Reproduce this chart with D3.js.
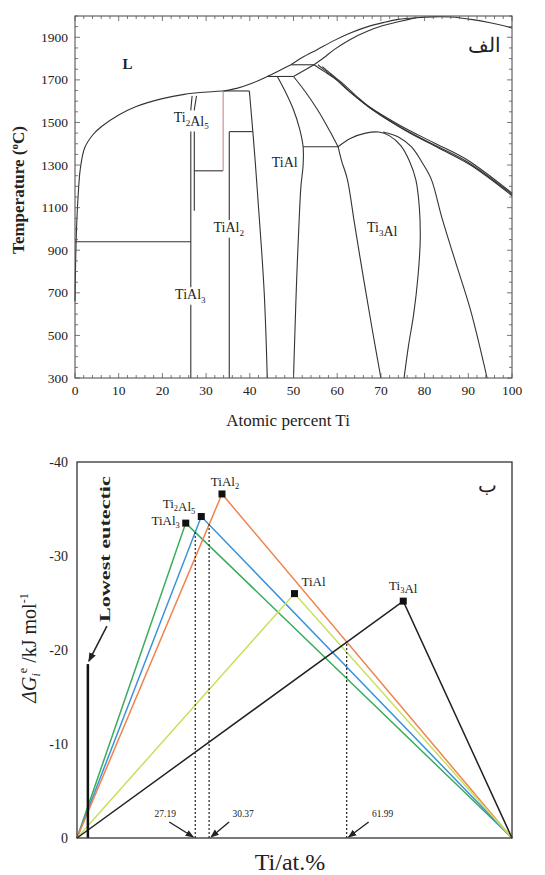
<!DOCTYPE html>
<html>
<head>
<meta charset="utf-8">
<script src="https://cdn.jsdelivr.net/npm/d3@7"></script>
<style>
  body { margin: 0; background: #fff; }
  text { font-family: "Liberation Serif", "Times New Roman", "DejaVu Serif", serif; fill: #222; }
</style>
</head>
<body>
<script>
// ---------- top panel: Ti-Al phase diagram (at.% Ti, deg C) ----------
const liquidusAl = [[0,660],[0.15,850],[0.35,1000],[0.7,1150],[1.2,1280],[2.2,1380],[4,1440],[6,1480],[10,1535],[14,1575],[20,1612],[25,1632],[29.5,1642],[33.9,1648]];
const liquidusMid = [[33.9,1648],[37,1660],[40.5,1684],[44,1716],[46.7,1743],[49.4,1771]];
const liquidusUpper = [[49.4,1771],[52,1805],[55.4,1842],[59,1882],[63,1920],[67,1950],[70.7,1970],[74,1984],[78,1992]];
const solidusBeta = [[54.7,1771],[57,1805],[59.3,1842],[63,1890],[66.9,1928],[70.5,1955],[74.5,1975],[78,1992]];
const liquidusTi = [[78,1992],[82,1996],[86,1995],[91,1983],[95,1968],[100,1944]];
const peritecticTiAl2 = [[33.9,1648],[39.9,1648]];
const peritecticTiAl = [[44,1716],[50,1716]];
const peritecticAlpha = [[49.4,1771],[54.7,1771]];
const alphaSolidus = [[50,1716],[54.7,1771]];
const eutecticAl = [[0,940],[26.5,940]];
const tial3Line = [[26.5,300],[26.5,1560],[26.8,1625]];
const ti2al5Line = [[27.3,1085],[27.3,1560],[27.8,1625]];
const ti2al5Bottom = [[27.3,1273],[33.9,1273]];
const ti2al5Right = [[33.9,1273],[33.9,1648]];
const tial2Line = [[35.3,300],[35.3,1457]];
const tial2Top = [[35.3,1457],[40.7,1457]];
const tialCorner = [[39.9,1648],[40.7,1457]];
const tialLeft = [[40.7,1457],[41.3,1300],[42,1100],[42.7,900],[43.3,700],[43.7,500],[44,300]];
const tialRight = [[46.3,1716],[48,1650],[50,1560],[51.4,1470],[52.2,1386],[52.2,1300],[51.7,1200],[51.2,1000],[50.7,750],[50.3,500],[50,300]];
const alphaLeft = [[50,1716],[52.5,1650],[55.5,1560],[58.3,1460],[60.2,1386]];
const eutectoid = [[52.2,1386],[60.2,1386]];
const ti3alLeft = [[60.2,1386],[61,1320],[62.3,1235],[64,1020],[66,770],[68,530],[70,300]];
const ti3alDome = [[60.2,1386],[63,1425],[66.5,1450],[69.5,1455],[72,1437],[74.5,1392],[76.5,1320],[78,1230],[78.8,1100],[79,950],[78.5,780],[77.5,600],[76.3,450],[75.3,300]];
const alphaTransus = [[70.5,1455],[74,1432],[77,1385],[79.5,1310],[81.5,1235],[84,1050],[87,850],[90.5,620],[94.3,300]];
const betaTransus1 = [[54.7,1771],[57,1740],[59.3,1708],[63,1642],[66.9,1580],[74.5,1485],[82.1,1405],[89.7,1325],[100,1168]];
const betaTransus2 = [[55.6,1771],[57.8,1735],[60,1700],[63.6,1632],[67.5,1568],[75,1472],[82.5,1392],[90,1312],[100,1162]];
const betaTransus3 = [[56.6,1762],[58.8,1724],[61,1688],[64.6,1620],[68.4,1556],[75.8,1460],[83.2,1380],[90.5,1300],[100,1156]];

const smoothCurves = [liquidusAl, liquidusMid, liquidusUpper, solidusBeta, liquidusTi, tialLeft, tialRight,
  alphaLeft, ti3alLeft, ti3alDome, alphaTransus, betaTransus1, betaTransus2, betaTransus3];
const straightLines = [peritecticTiAl2, peritecticTiAl, peritecticAlpha, alphaSolidus, eutecticAl, tial3Line,
  ti2al5Line, ti2al5Bottom, tial2Line, tial2Top, tialCorner, eutectoid];

const phaseLabels = ['L', 'Ti2Al5', 'TiAl', 'TiAl2', 'Ti3Al', 'TiAl3'];
const phaseLabelX = [12, 26.6, 48, 35.2, 70.3, 26.4];
const phaseLabelT = [1750, 1500, 1290, 985, 985, 670];

const topXTicks = d3.range(0, 101, 10);
const topYTicks = d3.range(300, 2000, 200);

// ---------- bottom panel: effective Gibbs energy ----------
const compounds = ['TiAl3', 'Ti2Al5', 'TiAl2', 'TiAl', 'Ti3Al'];
const compoundTi = [25, 28.57, 33.33, 50, 75];
const compoundG = [-33.5, -34.2, -36.6, -26.0, -25.2];
const eutecticTi = 2.5;
const eutecticG = -18.5;
const crossTi = [27.19, 30.37, 61.99];
const crossG = [-32.6, -33.4, -20.9];
const crossLabels = ['27.19', '30.37', '61.99'];
const bottomYTicks = [0, -10, -20, -30, -40];

const colors = { TiAl3: '#3aac5c', Ti2Al5: '#3b93d8', TiAl2: '#f0834e', TiAl: '#c8e05a', Ti3Al: '#222' };

const svg = d3.select('body').append('svg').attr('width', 545).attr('height', 875);

// helper: chemical formula with subscripts
function formula(sel, str, size) {
  const parts = str.match(/[A-Za-z]+|\d+/g);
  parts.forEach((p) => {
    if (/\d/.test(p)) {
      sel.append('tspan').attr('font-size', size * 0.65).attr('dy', size * 0.25).text(p);
      sel.append('tspan').attr('font-size', size).attr('dy', -size * 0.25).text('');
    } else {
      sel.append('tspan').text(p);
    }
  });
}

// ===== top panel =====
const x1 = d3.scaleLinear().domain([0, 100]).range([75, 512]);
const y1 = d3.scaleLinear().domain([300, 2000]).range([378, 16]);
const topG = svg.append('g');

const smooth = d3.line().x((d) => x1(d[0])).y((d) => y1(d[1])).curve(d3.curveCatmullRom.alpha(0.5));
const straight = d3.line().x((d) => x1(d[0])).y((d) => y1(d[1]));

topG.selectAll('.curve').data(smoothCurves).join('path')
  .attr('class', 'curve').attr('d', smooth)
  .attr('fill', 'none').attr('stroke', '#333').attr('stroke-width', 1.1);
topG.selectAll('.seg').data(straightLines).join('path')
  .attr('class', 'seg').attr('d', straight)
  .attr('fill', 'none').attr('stroke', '#333').attr('stroke-width', 1.1);
topG.append('path').datum(ti2al5Right).attr('d', straight)
  .attr('fill', 'none').attr('stroke', '#c48a8a').attr('stroke-width', 1.1);

// frame and ticks
topG.append('rect').attr('x', x1(0)).attr('y', y1(2000))
  .attr('width', x1(100) - x1(0)).attr('height', y1(300) - y1(2000))
  .attr('fill', 'none').attr('stroke', '#444').attr('stroke-width', 1);
const minorX = d3.range(0, 101, 2);
const minorY = d3.range(300, 2001, 50);
[y1(300), y1(2000)].forEach((yy, k) => {
  const dir = k === 0 ? -1 : 1;
  topG.selectAll(null).data(minorX).join('line')
    .attr('x1', (d) => x1(d)).attr('x2', (d) => x1(d))
    .attr('y1', yy).attr('y2', (d) => yy + dir * (d % 10 === 0 ? 5 : 3))
    .attr('stroke', '#555').attr('stroke-width', 0.8);
});
[x1(0), x1(100)].forEach((xx, k) => {
  const dir = k === 0 ? 1 : -1;
  topG.selectAll(null).data(minorY).join('line')
    .attr('y1', (d) => y1(d)).attr('y2', (d) => y1(d))
    .attr('x1', xx).attr('x2', (d) => xx + dir * ((d - 300) % 200 === 0 ? 5 : 3))
    .attr('stroke', '#555').attr('stroke-width', 0.8);
});
topG.selectAll('.xt').data(topXTicks).join('text')
  .attr('x', (d) => x1(d)).attr('y', 395).attr('text-anchor', 'middle')
  .attr('font-size', 13.5).text((d) => d);
topG.selectAll('.yt').data(topYTicks).join('text')
  .attr('x', 68).attr('y', (d) => y1(d) + 4.5).attr('text-anchor', 'end')
  .attr('font-size', 13.5).text((d) => d);
topG.append('text').attr('transform', 'translate(24,190) rotate(-90)')
  .attr('text-anchor', 'middle').attr('font-size', 17).attr('font-weight', 'bold')
  .html('Temperature (<tspan dy="-6" font-size="11">o</tspan><tspan dy="6">C)</tspan>');
topG.append('text').attr('x', 288).attr('y', 426).attr('text-anchor', 'middle')
  .attr('font-size', 17).text('Atomic percent Ti');

// phase labels with white background
phaseLabels.forEach((lab, i) => {
  const g = topG.append('g');
  const t = g.append('text').attr('x', x1(phaseLabelX[i])).attr('y', y1(phaseLabelT[i]))
    .attr('text-anchor', 'middle').attr('font-size', lab === 'L' ? 15 : 14)
    .attr('font-weight', lab === 'L' ? 'bold' : 'normal');
  formula(t, lab, 14);
  const bb = t.node().getBBox();
  g.insert('rect', 'text').attr('x', bb.x - 1).attr('y', bb.y).attr('width', bb.width + 2)
    .attr('height', bb.height).attr('fill', '#fff');
});
topG.append('text').attr('x', 484).attr('y', 52).attr('text-anchor', 'middle')
  .attr('font-size', 20).attr('font-family', 'DejaVu Sans').text('الف');

// ===== bottom panel =====
const x2 = d3.scaleLinear().domain([0, 100]).range([77, 512]);
const y2 = d3.scaleLinear().domain([0, -40]).range([838, 462]);
const bot = svg.append('g');

svg.append('defs').append('marker').attr('id', 'arrow')
  .attr('viewBox', '0 0 10 10').attr('refX', 9).attr('refY', 5)
  .attr('markerWidth', 6).attr('markerHeight', 6).attr('orient', 'auto')
  .append('path').attr('d', 'M0,1 L10,5 L0,9 z').attr('fill', '#222');

const triLine = d3.line().x((d) => x2(d[0])).y((d) => y2(d[1]));
compounds.forEach((c, i) => {
  const pts = [[0, 0], [compoundTi[i], compoundG[i]], [100, 0]];
  bot.append('path').datum(pts).attr('d', triLine)
    .attr('fill', 'none').attr('stroke', colors[c]).attr('stroke-width', 1.5);
});

// dotted crossing lines
crossTi.forEach((v, i) => {
  bot.append('line').attr('x1', x2(v)).attr('x2', x2(v))
    .attr('y1', y2(0)).attr('y2', y2(crossG[i]))
    .attr('stroke', '#333').attr('stroke-width', 1.3).attr('stroke-dasharray', '2,2');
});

// lowest eutectic
bot.append('line').attr('x1', x2(eutecticTi)).attr('x2', x2(eutecticTi))
  .attr('y1', y2(0)).attr('y2', y2(eutecticG))
  .attr('stroke', '#111').attr('stroke-width', 2.5);
bot.append('line').attr('x1', x2(eutecticTi) + 19).attr('y1', y2(eutecticG) - 38)
  .attr('x2', x2(eutecticTi) + 1).attr('y2', y2(eutecticG) - 3)
  .attr('stroke', '#222').attr('stroke-width', 1.5).attr('marker-end', 'url(#arrow)');
bot.append('text').attr('transform', `translate(${x2(eutecticTi) + 22},${y2(eutecticG) - 42}) rotate(-90)`)
  .attr('font-size', 14).attr('font-weight', 'bold')
  .attr('textLength', 146).attr('lengthAdjust', 'spacingAndGlyphs').text('Lowest eutectic');

// markers and labels
bot.selectAll('.pk').data(compounds).join('rect')
  .attr('x', (d, i) => x2(compoundTi[i]) - 3.5).attr('y', (d, i) => y2(compoundG[i]) - 3.5)
  .attr('width', 7).attr('height', 7).attr('fill', '#111');
const labDx = [-6, -6, 3, 7, 0];
const labDy = [2, -9, -8, -8, -11];
const labAnchor = ['end', 'end', 'middle', 'start', 'middle'];
compounds.forEach((c, i) => {
  const t = bot.append('text')
    .attr('x', x2(compoundTi[i]) + labDx[i]).attr('y', y2(compoundG[i]) + labDy[i])
    .attr('text-anchor', labAnchor[i]).attr('font-size', 13);
  formula(t, c, 13);
});

// crossing annotations
const annDx = [-26, 20, 22];
crossTi.forEach((v, i) => {
  const fx = x2(v), fy = y2(0);
  bot.append('line').attr('x1', fx + annDx[i]).attr('y1', fy - 16)
    .attr('x2', fx + (annDx[i] < 0 ? -2 : 2)).attr('y2', fy - 1)
    .attr('stroke', '#222').attr('stroke-width', 1.4).attr('marker-end', 'url(#arrow)');
  bot.append('text').attr('x', fx + annDx[i] + (annDx[i] < 0 ? -4 : 14))
    .attr('y', fy - 21).attr('text-anchor', 'middle').attr('font-size', 9.5).text(crossLabels[i]);
});

// frame, ticks, titles
bot.append('rect').attr('x', x2(0)).attr('y', y2(-40))
  .attr('width', x2(100) - x2(0)).attr('height', y2(0) - y2(-40))
  .attr('fill', 'none').attr('stroke', '#333').attr('stroke-width', 1.3);
bot.selectAll('.by').data(bottomYTicks).join('text')
  .attr('x', 68).attr('y', (d) => y2(d) + 5).attr('text-anchor', 'end')
  .attr('font-size', 14).text((d) => d);
bot.append('text').attr('x', 487).attr('y', 492).attr('text-anchor', 'middle')
  .attr('font-size', 20).attr('font-family', 'DejaVu Sans').text('ب');
bot.append('text').attr('transform', 'translate(36,648) rotate(-90)')
  .attr('text-anchor', 'middle').attr('font-size', 20)
  .html('<tspan font-style="italic">ΔG</tspan><tspan font-size="12" font-style="italic" dy="4">i</tspan>' +
        '<tspan font-size="12" dy="-13">e</tspan><tspan dy="9"> /kJ mol</tspan>' +
        '<tspan font-size="12" dy="-8">-1</tspan>');
bot.append('text').attr('x', 290).attr('y', 870).attr('text-anchor', 'middle')
  .attr('font-size', 24).text('Ti/at.%');
</script>
</body>
</html>
